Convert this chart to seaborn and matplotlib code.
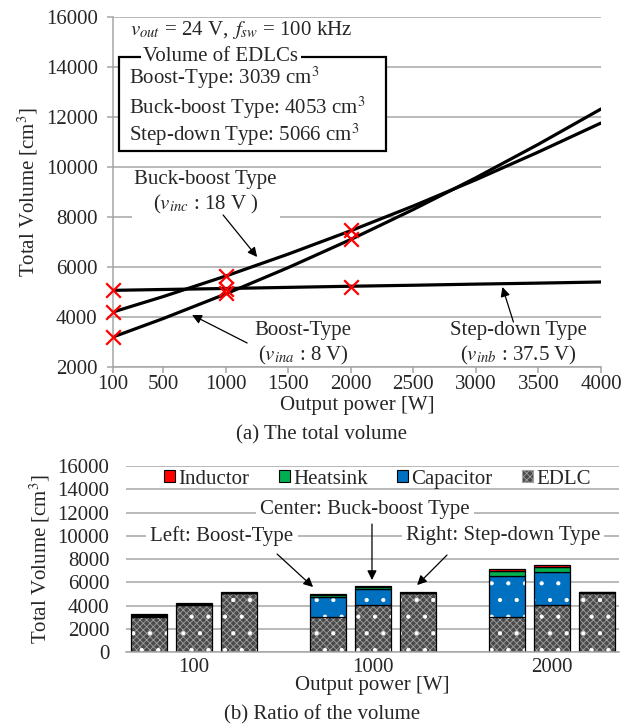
import numpy as np
import matplotlib
matplotlib.use("Agg")
import matplotlib.pyplot as plt
from matplotlib.patches import Patch, Rectangle
import seaborn as sns

# ---- (a) total volume vs output power ----
power_pts = [100, 1000, 2000]
boost_pts = [3210, 4950, 7110]
buckboost_pts = [4200, 5650, 7470]
stepdown_pts = [5066, 5110, 5180]

# trend curves
trend_power = [100, 500, 1000, 1500, 2000, 2500, 3000, 3500, 4000]
boost_trend = [3200, 3935, 4920, 5975, 7100, 8300, 9570, 10910, 12320]
buckboost_trend = [4200, 4815, 5635, 6515, 7450, 8440, 9490, 10600, 11760]
stepdown_trend = [5066, 5100, 5140, 5185, 5230, 5270, 5315, 5355, 5400]

xticks_a = [100, 500, 1000, 1500, 2000, 2500, 3000, 3500, 4000]

# ---- (b) breakdown of the volume (rows: boost, buck-boost, step-down) ----
groups = ["100", "1000", "2000"]
edlc = [3039, 4053, 5066]
capacitor = [[90, 1720, 3500], [60, 1400, 2850], [20, 20, 20]]
heatsink = [[50, 120, 470], [50, 120, 430], [30, 30, 40]]
inductor = [[60, 80, 100], [60, 80, 150], [40, 40, 50]]

sns.set_style("white")
plt.rcParams["font.family"] = ["Liberation Serif", "DejaVu Serif"]
plt.rcParams["mathtext.fontset"] = "stix"
plt.rcParams["hatch.linewidth"] = 0.6
FS = 15
GRID = "#a6a6a6"
CM3 = r"cm$^{3}$"

fig = plt.figure(figsize=(6.37, 7.26), dpi=100)

# ── (a) ──
ax1 = fig.add_axes([0.1774, 0.4945, 0.7661, 0.4821])
ax1.set_axisbelow(True)
for ys in [boost_trend, buckboost_trend, stepdown_trend]:
    sns.lineplot(x=trend_power, y=ys, color="black", lw=2.3, ax=ax1, zorder=2)
for ys in [boost_pts, buckboost_pts, stepdown_pts]:
    sns.scatterplot(x=power_pts, y=ys, marker="x", color="red", s=110,
                    linewidth=1.6, ax=ax1, zorder=5, clip_on=False)

ax1.set_xlim(100, 4000)
ax1.set_ylim(2000, 16000)
ax1.set_xticks(xticks_a)
ax1.set_yticks(range(2000, 16001, 2000))
ax1.yaxis.grid(True, color=GRID, lw=1.1)
ax1.xaxis.grid(False)
for s in ["top", "right"]:
    ax1.spines[s].set_visible(False)
for s in ["left", "bottom"]:
    ax1.spines[s].set_color(GRID)
    ax1.spines[s].set_linewidth(1.1)
ax1.tick_params(axis="both", labelsize=FS, bottom=True, left=True, length=4,
                color=GRID, width=1.1)
ax1.tick_params(axis="x", pad=2)
ax1.tick_params(axis="y", pad=7)
ax1.set_xlabel("Output power [W]", fontsize=FS)
ax1.xaxis.set_label_coords(0.5, -0.082)
ax1.set_ylabel("Total Volume [cm$^{3}$]", fontsize=FS)
ax1.yaxis.set_label_coords(-0.15, 0.5)

ax1.text(0.035, 0.963, r"$v_{out}$ = 24 V, $\,f_{sw}$ = 100 kHz", transform=ax1.transAxes,
         fontsize=FS, va="center", ha="left")
ax1.add_patch(Rectangle((0.0123, 0.617), 0.547, 0.269, transform=ax1.transAxes,
                        fc="white", ec="black", lw=1.6, zorder=3))
ax1.text(0.221, 0.886, "Volume of EDLCs", transform=ax1.transAxes, fontsize=FS,
         ha="center", va="center", zorder=4,
         bbox=dict(fc="white", ec="none", pad=2))
for yy, s in [(0.826, "Boost-Type: 3039 " + CM3), (0.74, "Buck-boost Type: 4053 " + CM3),
              (0.663, "Step-down Type: 5066 " + CM3)]:
    ax1.text(0.033, yy, s, transform=ax1.transAxes, fontsize=FS, ha="left",
             va="center", zorder=4)

arrow = dict(arrowstyle="-|>", color="black", lw=0.9, mutation_scale=14,
             shrinkA=0, shrinkB=0)
ax1.text(840, 8950, "Buck-boost Type\n($v_{inc}$ : 18 V )", fontsize=FS, ha="center",
         va="center", linespacing=1.25, zorder=3,
         bbox=dict(fc="white", ec="none", pad=2))
ax1.annotate("", xy=(1252, 6400), xytext=(980, 8080), arrowprops=arrow)
ax1.text(1620, 2920, "Boost-Type\n($v_{ina}$ : 8 V)", fontsize=FS, ha="center",
         va="center", linespacing=1.25)
ax1.annotate("", xy=(732, 4080), xytext=(1172, 2960), arrowprops=arrow)
ax1.text(3340, 2920, "Step-down Type\n($v_{inb}$ : 37.5 V)", fontsize=FS, ha="center",
         va="center", linespacing=1.25)
ax1.annotate("", xy=(3212, 5200), xytext=(3300, 3800), arrowprops=arrow)

fig.text(0.505, 1 - 435 / 726, "(a) The total volume", fontsize=FS, ha="center", va="center")

# ── (b) ──
ax2 = fig.add_axes([0.1978, 0.1019, 0.774, 0.2562])
ax2.set_axisbelow(True)
xpos = np.arange(len(groups))
offsets = [-0.25, 0.0, 0.25]
W = 0.2
EDLC_FC, EDLC_HC = "#4a4a4a", "#a0a0a0"
layers = [(capacitor, "#0070C0", "."), (heatsink, "#00B050", None), (inductor, "#FF0000", None)]
for t in range(3):
    pos = xpos + offsets[t]
    base = np.full(len(groups), float(edlc[t]))
    ax2.bar(pos, base, width=W, facecolor=EDLC_FC, edgecolor=EDLC_HC, hatch="xxxxx", lw=0)
    ax2.bar(pos, base, width=W, fill=False, edgecolor="white", hatch=".", lw=0)
    ax2.bar(pos, base, width=W, fill=False, edgecolor="black", lw=0.9)
    bottom = base.copy()
    for comp, col, h in layers:
        vals = np.array(comp[t], float)
        ax2.bar(pos, vals, bottom=bottom, width=W, facecolor=col, edgecolor="white",
                hatch=h, lw=0)
        ax2.bar(pos, vals, bottom=bottom, width=W, fill=False, edgecolor="black", lw=0.9)
        bottom += vals

ax2.set_xlim(-0.38, 2.374)
ax2.set_ylim(0, 16000)
ax2.set_yticks(range(0, 16001, 2000))
ax2.set_xticks(xpos, groups)
ax2.yaxis.grid(True, color=GRID, lw=1.1)
ax2.xaxis.grid(False)
for s in ["top", "right", "left"]:
    ax2.spines[s].set_visible(False)
ax2.spines["bottom"].set_color(GRID)
ax2.spines["bottom"].set_linewidth(1.1)
ax2.tick_params(axis="both", labelsize=FS, length=0)
ax2.tick_params(axis="y", pad=12)
ax2.tick_params(axis="x", pad=4)
ax2.set_xlabel("Output power [W]", fontsize=FS)
ax2.xaxis.set_label_coords(0.5, -0.13)
ax2.set_ylabel("Total Volume [cm$^{3}$]", fontsize=FS)
ax2.yaxis.set_label_coords(-0.15, 0.5)

handles = [Patch(facecolor="#FF0000", edgecolor="black", lw=0.8, label="Inductor"),
           Patch(facecolor="#00B050", edgecolor="black", lw=0.8, label="Heatsink"),
           Patch(facecolor="#0070C0", edgecolor="black", lw=0.8, label="Capacitor"),
           Patch(facecolor=EDLC_FC, edgecolor=EDLC_HC, hatch="xxxxx", lw=0.8, label="EDLC")]
ax2.legend(handles=handles, ncol=4, loc="center", bbox_to_anchor=(0.51, 0.93),
           frameon=False, fontsize=FS, handlelength=0.55, handleheight=0.55,
           handletextpad=0.15, columnspacing=1.4, borderaxespad=0)

bbox_w = dict(fc="white", ec="none", pad=3)
ax2.text(0.955, 12300, "Center: Buck-boost Type", fontsize=FS, ha="center", va="center", bbox=bbox_w)
ax2.text(0.156, 10000, "Left: Boost-Type", fontsize=FS, ha="center", va="center", bbox=bbox_w)
ax2.text(1.726, 10000, "Right: Step-down Type", fontsize=FS, ha="center", va="center", bbox=bbox_w)
ax2.annotate("", xy=(0.665, 5590), xytext=(0.464, 8430), arrowprops=arrow)
ax2.annotate("", xy=(0.994, 6190), xytext=(0.994, 11010), arrowprops=arrow)
ax2.annotate("", xy=(1.246, 5760), xytext=(1.413, 8340), arrowprops=arrow)

fig.text(0.505, 1 - 715 / 726, "(b) Ratio of the volume", fontsize=FS, ha="center", va="center")

fig.savefig("out.png", dpi=100)
